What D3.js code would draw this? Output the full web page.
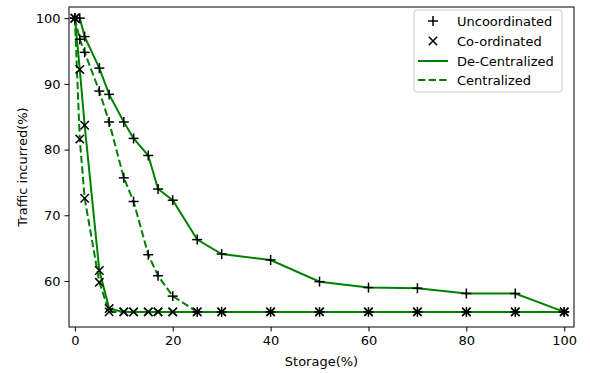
<!DOCTYPE html>
<html><head><meta charset="utf-8">
<script src="https://cdn.jsdelivr.net/npm/d3@7"></script>
<style>body{margin:0;background:#fff}svg text{font-family:"DejaVu Sans",sans-serif}</style>
</head><body><svg id="c" width="590" height="373"></svg>
<script>
const storage = [0,1,2,5,7,10,12,15,17,20,25,30,40,50,60,70,80,90,100];
const uncoordDecentral = [100,100,97.2,92.4,88.4,84.2,81.7,79.1,74.0,72.3,66.3,64.1,63.2,59.9,59.0,58.9,58.1,58.1,55.3];
const uncoordCentral   = [100,96.8,94.8,88.9,84.2,75.7,72.1,64.0,60.8,57.7,55.3,55.3,55.3,55.3,55.3,55.3,55.3,55.3,55.3];
const coordDecentral   = [100,92.2,83.7,61.6,55.8,55.3,55.3,55.3,55.3,55.3,55.3,55.3,55.3,55.3,55.3,55.3,55.3,55.3,55.3];
const coordCentral     = [100,81.6,72.6,59.8,55.3,55.3,55.3,55.3,55.3,55.3,55.3,55.3,55.3,55.3,55.3,55.3,55.3,55.3,55.3];
const xTicks = [0,20,40,60,80,100];
const yTicks = [60,70,80,90,100];
const legendLabels = ["Uncoordinated","Co-ordinated","De-Centralized","Centralized"];

const svg = d3.select("#c");
const L=69,R=574,T=7,B=327;
const x = d3.scaleLinear().domain([-1.2,102]).range([L,R]);
const y = d3.scaleLinear().domain([53.0,101.7]).range([B,T]);
const green = "#008000";

const series = [
  {v:uncoordDecentral, dash:null, m:"+"},
  {v:uncoordCentral, dash:"7.4,3.2", m:"+"},
  {v:coordDecentral, dash:null, m:"x"},
  {v:coordCentral, dash:"7.4,3.2", m:"x"}
];
const line = d3.line().x((d,i)=>x(storage[i])).y(d=>y(d));
function marker(g, m, cx, cy){
  const s = m==="+" ? 5 : 4.2;
  if(m==="+"){
    g.append("line").attr("x1",cx-s).attr("x2",cx+s).attr("y1",cy).attr("y2",cy);
    g.append("line").attr("x1",cx).attr("x2",cx).attr("y1",cy-s).attr("y2",cy+s);
  } else {
    g.append("line").attr("x1",cx-s).attr("x2",cx+s).attr("y1",cy-s).attr("y2",cy+s);
    g.append("line").attr("x1",cx-s).attr("x2",cx+s).attr("y1",cy+s).attr("y2",cy-s);
  }
}
const plot = svg.append("g");
series.forEach(s=>{
  plot.append("path").datum(s.v).attr("d",line).attr("fill","none")
    .attr("stroke",green).attr("stroke-width",2).attr("stroke-dasharray",s.dash);
});
series.forEach(s=>{
  const g = plot.append("g").attr("stroke","#000").attr("stroke-width",1.5);
  s.v.forEach((d,i)=>marker(g,s.m,x(storage[i]),y(d)));
});

// frame
svg.append("rect").attr("x",L).attr("y",T).attr("width",R-L).attr("height",B-T)
  .attr("fill","none").attr("stroke","#000").attr("stroke-width",1);

const xa = svg.append("g").attr("transform",`translate(0,${B})`)
  .call(d3.axisBottom(x).tickValues(xTicks).tickSize(4.5).tickSizeOuter(0).tickPadding(4));
const ya = svg.append("g").attr("transform",`translate(${L},0)`)
  .call(d3.axisLeft(y).tickValues(yTicks).tickSize(4.5).tickSizeOuter(0).tickPadding(4));
[xa,ya].forEach(a=>{a.select(".domain").remove();
  a.selectAll("text").attr("font-size",13).attr("fill","#000").attr("font-family","DejaVu Sans");
  a.selectAll("line").attr("stroke","#000");});

svg.append("text").attr("x",(L+R)/2).attr("y",366).attr("text-anchor","middle")
  .attr("font-size",13).text("Storage(%)");
svg.append("text").attr("transform",`translate(27,${(T+B)/2}) rotate(-90)`)
  .attr("text-anchor","middle").attr("font-size",13).text("Traffic incurred(%)");

// legend
const lg = svg.append("g");
lg.append("rect").attr("x",414).attr("y",10).attr("width",148).attr("height",82).attr("rx",3)
  .attr("fill","#fff").attr("fill-opacity",0.8).attr("stroke","#ccc");
const rows=[21,41,61,80];
legendLabels.forEach((t,i)=>{
  const ry=rows[i];
  if(i<2){
    const g=lg.append("g").attr("stroke","#000").attr("stroke-width",1.5);
    marker(g, i===0?"+":"x", 433, ry);
  } else {
    lg.append("line").attr("x1",418).attr("x2",448).attr("y1",ry).attr("y2",ry)
      .attr("stroke",green).attr("stroke-width",2).attr("stroke-dasharray",i===3?"7.4,3.2":null);
  }
  lg.append("text").attr("x",457).attr("y",ry+4.5).attr("font-size",13).text(t);
});
</script></body></html>
